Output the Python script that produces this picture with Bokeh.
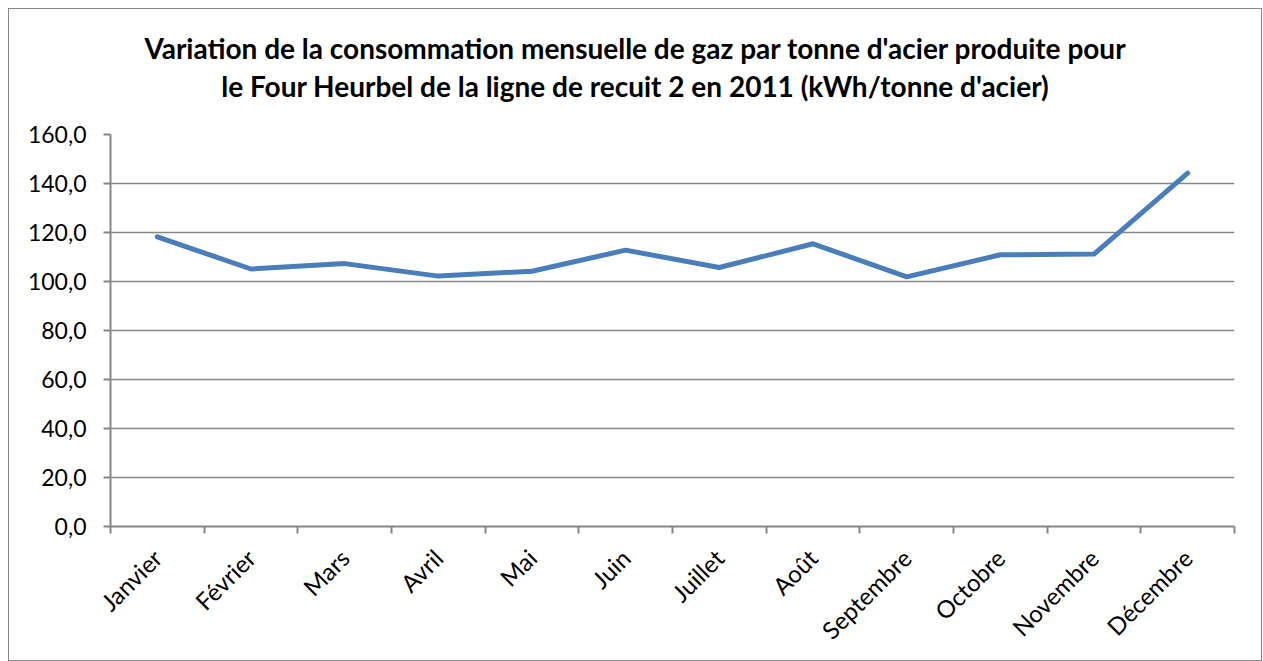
from bokeh.plotting import figure
from bokeh.models import Range1d, FixedTicker, Div
from bokeh.layouts import column
from bokeh.embed import file_html
from bokeh.resources import INLINE
import math

months = ["Janvier", "Février", "Mars", "Avril", "Mai", "Juin", "Juillet",
          "Août", "Septembre", "Octobre", "Novembre", "Décembre"]
values = [118.2, 105.1, 107.3, 102.2, 104.2, 112.8, 105.7, 115.4, 101.9, 110.9, 111.2, 144.2]
y_ticks = [0, 20, 40, 60, 80, 100, 120, 140, 160]
y_tick_labels = ["0,0", "20,0", "40,0", "60,0", "80,0", "100,0", "120,0", "140,0", "160,0"]
title_lines = ["Variation de la consommation mensuelle de gaz par tonne d'acier produite pour",
               "le Four Heurbel de la ligne de recuit 2 en 2011 (kWh/tonne d'acier)"]

FONT = "Lato"
GRAY = "#868686"

xs = [i + 0.5 for i in range(len(months))]

title_div = Div(
    text=('<div style="padding-top:20px; text-align:center; font-family:Lato; '
          'font-weight:bold; font-size:28px; line-height:38px; color:black; width:1252px;">'
          + "<br>".join(title_lines) + "</div>"),
    width=1252, height=100, margin=(0, 0, 0, 0))

p = figure(width=1252, height=551, output_backend="svg", toolbar_location=None,
           x_range=Range1d(0, len(months)), y_range=Range1d(0, 160),
           min_border_left=101, min_border_right=27, min_border_top=25,
           min_border_bottom=134, margin=(0, 0, 0, 0))
p.outline_line_color = None

p.line(xs, values, line_color="#4A7EBB", line_width=5, line_cap="round", line_join="round")

# x axis
p.xaxis.ticker = FixedTicker(ticks=xs, minor_ticks=list(range(len(months) + 1)))
p.xaxis.major_label_overrides = {x: m for x, m in zip(xs, months)}
p.xaxis.major_label_orientation = math.pi / 4
p.xaxis.major_tick_out = 0
p.xaxis.major_tick_in = 0
p.xaxis.minor_tick_out = 7
p.xaxis.minor_tick_in = 0
p.xaxis.minor_tick_line_color = GRAY
p.xaxis.axis_line_color = GRAY
p.xaxis.axis_line_width = 2
p.xaxis.minor_tick_line_width = 2
p.xaxis.major_label_text_font = FONT
p.xaxis.major_label_text_font_size = "24px"
p.xaxis.major_label_text_color = "black"
p.xaxis.major_label_standoff = 20

# y axis
p.yaxis.ticker = FixedTicker(ticks=y_ticks)
p.yaxis.major_label_overrides = {t: l for t, l in zip(y_ticks, y_tick_labels)}
p.yaxis.major_tick_out = 7
p.yaxis.major_tick_in = 0
p.yaxis.minor_tick_line_color = None
p.yaxis.major_tick_line_color = GRAY
p.yaxis.major_tick_line_width = 2
p.yaxis.axis_line_color = GRAY
p.yaxis.axis_line_width = 2
p.yaxis.major_label_text_font = FONT
p.yaxis.major_label_text_font_size = "23px"
p.yaxis.major_label_text_color = "black"
p.yaxis.major_label_standoff = 17

p.xgrid.grid_line_color = None
p.ygrid.grid_line_color = GRAY
p.ygrid.grid_line_width = 1.5

layout = column(title_div, p, spacing=0,
                styles={"border": f"1px solid {GRAY}", "margin-left": "8px", "margin-top": "8px"})

open("out.html", "w").write(file_html(layout, INLINE))
